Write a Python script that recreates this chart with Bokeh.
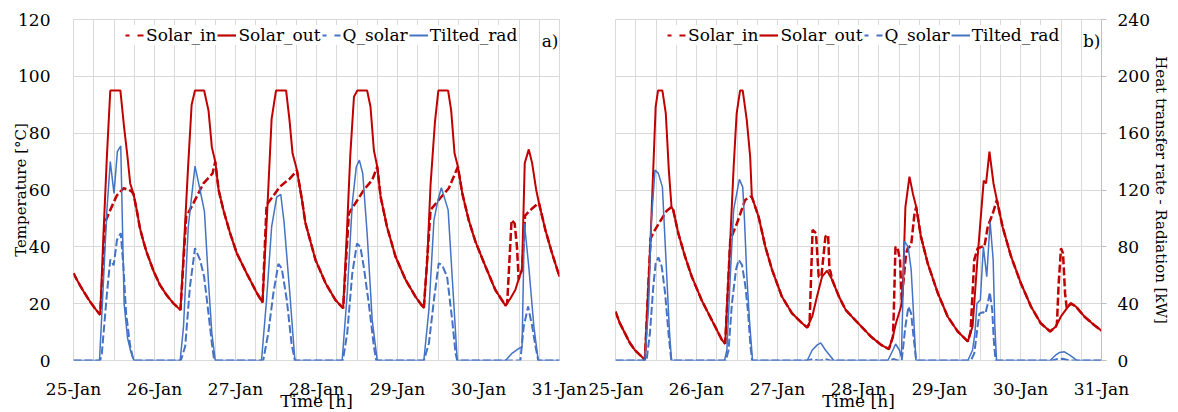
from bokeh.plotting import figure
from bokeh.models import Range1d, LinearAxis, FixedTicker, Legend, LegendItem, Label, Grid
from bokeh.layouts import row
from bokeh.embed import file_html
from bokeh.resources import INLINE

FONT = "DejaVu Serif"
FS = "17px"
FS_VT = "15px"
RED = "#c00000"
BLUE = "#4472c4"
GRID = "#d9d9d9"
AXIS = "#bfbfbf"
TEXT = "#000000"

# ---------------- axis content ----------------
DAY_TICKS = [0, 24, 48, 72, 96, 120, 144]          # hours since 25-Jan 00:00
DAY_LABELS = ["25-Jan", "26-Jan", "27-Jan", "28-Jan", "29-Jan", "30-Jan", "31-Jan"]
TEMP_TICKS = [0, 20, 40, 60, 80, 100, 120]
KW_TICKS = [0, 40, 80, 120, 160, 200, 240]
SERIES = ["Solar_in", "Solar_out", "Q_solar", "Tilted_rad"]
X_TITLE = "Time [h]"
Y_LEFT_TITLE = "Temperature [°C]"
Y_RIGHT_TITLE = "Heat transfer rate - Radiation [kW]"
TAGS = ["a)", "b)"]

# ---------------- panel a data: (hour, value) ----------------
A_SOLAR_OUT = [(0, 30.7), (1, 28.4), (2, 26.3), (3, 24.3), (4, 22.4), (5, 20.6), (6, 18.9), (7, 17.4), (7.9, 16.1),
               (8.9, 45), (9.9, 72), (10.9, 95), (13.9, 95), (15, 82), (16, 71.7), (16.8, 62.3), (17.8, 58.5),
               (18.8, 52.5), (19.7, 46.5), (20.7, 42), (21.7, 38), (22.7, 34.8), (23.7, 31.5), (25.6, 26.6),
               (27.6, 23), (29.6, 20.1), (31.7, 17.8),
               (32.8, 42), (33.9, 67), (35, 90), (36, 95), (38.7, 95), (40, 88), (41, 75), (42, 70), (43, 60),
               (44.4, 53), (46.4, 44.8), (48.4, 37.7), (51.3, 30.7), (54.3, 23.8), (56, 20.4),
               (57.5, 55), (58.7, 85), (60, 95), (63, 95), (64, 84.6), (64.9, 72.9), (66.2, 67), (67.7, 56.5),
               (68.7, 48.5), (71.7, 35.4), (74.7, 27.2), (77.6, 21.3), (79.9, 18.4),
               (81, 45), (82, 72), (83.1, 92.8), (84.1, 95), (87, 95), (88, 89.3), (89, 74), (90, 68.2), (91, 57.6),
               (92.9, 47), (95.4, 36.6), (98.4, 28.4), (101.3, 22.5), (103.8, 18.4),
               (104.8, 35), (105.8, 62), (107.1, 84), (108.1, 95), (111, 95), (111.9, 88), (112.9, 72.9),
               (113.9, 68.2), (115.2, 58.8), (117.1, 49.4), (119.1, 41.8), (122.1, 33), (125, 24.8), (128, 19.3),
               (129.5, 21.9), (130.9, 24.8), (132, 29), (132.9, 32), (133.7, 69.4), (134.9, 74.3), (135.9, 69.4),
               (137.1, 60), (137.9, 55.5), (139.8, 46), (141.8, 37.7), (144, 29.5)]
A_SOLAR_IN = [(0, 30.7), (1, 28.4), (2, 26.3), (3, 24.3), (4, 22.4), (5, 20.6), (6, 18.9), (7, 17.4), (7.9, 16.1),
              (9.5, 49), (10.9, 53), (12.8, 58), (14.8, 60.6), (16.3, 60.2), (17.3, 59.4), (17.8, 58.5),
              (18.8, 52.5), (19.7, 46.5), (20.7, 42), (21.7, 38), (22.7, 34.8), (23.7, 31.5), (25.6, 26.6),
              (27.6, 23), (29.6, 20.1), (31.7, 17.8),
              (33.4, 50.6), (35.5, 55.3), (38.5, 62.3), (41.2, 65.8), (42, 70), (43, 60),
              (44.4, 53), (46.4, 44.8), (48.4, 37.7), (51.3, 30.7), (54.3, 23.8), (56, 20.4),
              (57.2, 54.7), (61.2, 61.2), (64.1, 64), (65.6, 66), (66.2, 67), (67.7, 56.5),
              (68.7, 48.5), (71.7, 35.4), (74.7, 27.2), (77.6, 21.3), (79.9, 18.4),
              (81.6, 51.8), (83.6, 55.5), (86, 60), (88.5, 63.5), (90, 68.2), (91, 57.6),
              (92.9, 47), (95.4, 36.6), (98.4, 28.4), (101.3, 22.5), (103.8, 18.4),
              (105.8, 53), (108.2, 56.5), (111.2, 60.6), (113.9, 68.2), (115.2, 58.8), (117.1, 49.4),
              (119.1, 41.8), (122.1, 33), (125, 24.8), (128, 19.3),
              (128.5, 20.2), (129.8, 49.4), (130.7, 48.3), (131.4, 40), (131.9, 28.5), (132, 29), (132.9, 32),
              (133.8, 51), (135.9, 53.5), (137.9, 55.5), (139.8, 46), (141.8, 37.7), (144, 29.5)]
A_Q_SOLAR = [(0, 0), (7.9, 0), (8.4, 5), (9.9, 47), (10.9, 71), (11.9, 67), (12.9, 85), (14, 89.6), (14.8, 66),
             (15.6, 33), (16.8, 10), (17.8, 0),
             (31.8, 0), (33.1, 10), (34.5, 52), (36, 79), (37.5, 70.8), (38.7, 59), (40, 33), (41, 12), (41.7, 0),
             (56.2, 0), (57.7, 19), (59.2, 47), (60.7, 68), (61.7, 65), (63.2, 42.6), (64.6, 12), (65.6, 0),
             (79.8, 0), (81.1, 19), (82.6, 61.4), (84, 82.4), (85, 80), (86, 66), (87.5, 40), (89, 10), (89.7, 0),
             (103.8, 0), (105.3, 12), (106.8, 42.6), (108.2, 68.4), (109.2, 67.2), (110.7, 59), (112.2, 28.6),
             (113.2, 5.2), (113.7, 0),
             (132.4, 0), (133.4, 24), (134.7, 38), (135.9, 24), (136.9, 10), (137.7, 0), (144, 0)]
A_TILTED_RAD = [(0, 0), (7.7, 0), (8.7, 47), (9.9, 106), (10.9, 140), (12, 117.6), (13, 147), (14, 151), (15, 40),
                (16, 16), (17, 6), (17.9, 0),
                (31.6, 0), (32.6, 24), (34, 94), (36, 136.8), (37.5, 120), (38.8, 104.8), (40, 55), (41, 19), (42, 0),
                (55.7, 0), (57.2, 42.6), (58.7, 94), (60.2, 115), (61.4, 117), (62.4, 97), (64.1, 47), (65.6, 0),
                (79.6, 0), (81.1, 47), (82.6, 110.6), (83.8, 136.4), (84.7, 141), (85.7, 131.6), (87, 89.6),
                (88.5, 28.6), (90, 0),
                (103.8, 0), (105.3, 35.6), (106.8, 98.8), (108, 113), (109, 121.6), (111, 106), (112.2, 59),
                (113.7, 0),
                (128, 0), (130, 5.2), (132, 8.6), (132.9, 9.4), (133.6, 96.6), (134.9, 66), (136.4, 24),
                (137.7, 0), (144, 0)]

# ---------------- panel b data: (hour, value) ----------------
B_SOLAR_OUT = [(0, 17.2), (1.3, 13.1), (2.8, 9.6), (4.2, 6.3), (5.7, 3.7), (7.2, 2), (8.7, 0.2),
               (10.4, 43), (11.9, 89.3), (12.6, 95), (13.9, 95), (14.9, 87), (15.8, 67), (16.6, 54), (17.1, 53),
               (18.6, 44.8), (20.6, 36.6), (22.6, 29.5), (25.5, 21.3), (28.5, 14.3), (31.5, 7.3), (32.5, 5.9),
               (34, 42.4), (35, 68), (35.9, 87), (36.9, 95), (37.7, 95), (38.9, 84.6), (39.9, 71.7), (40.4, 57.6),
               (42.4, 50.6), (44.4, 40), (46.4, 31.9), (49.3, 22.5), (52.3, 16.6), (55.3, 13.1), (56.8, 11.6),
               (58.3, 15.5), (59.7, 22.5), (61.2, 29.5), (62.7, 31.6), (64.2, 28.4), (66.2, 22.5), (68.2, 17.8),
               (70, 15.5), (72.8, 12), (75.7, 8.4), (78.7, 5.5), (81, 4),
               (82.2, 8.4), (83.1, 13.1), (84.6, 19), (85.1, 23.7), (85.9, 54), (87.1, 64.7), (88.1, 58.8),
               (89.1, 54), (90.5, 43.6), (92.5, 34.2), (95.5, 23.7), (98.4, 15.5), (101.4, 10.2), (104.4, 6.7),
               (105.8, 12), (107.3, 36.6), (109.1, 63.3), (109.8, 62.3), (110.8, 73.5), (112, 62.3), (113, 56.5),
               (114.7, 47), (117.2, 36.6), (120.1, 27.2), (123.1, 19), (126, 13.1), (128.8, 10.2),
               (130.5, 12), (132, 15.5), (133.4, 17.8), (134.9, 20.1), (136.4, 19), (138.9, 15.5), (141.8, 12.5),
               (144, 10.5)]
B_SOLAR_IN = [(0, 17.2), (1.3, 13.1), (2.8, 9.6), (4.2, 6.3), (5.7, 3.7), (7.2, 2), (8.7, 0.2),
              (10.4, 43), (11.7, 46), (13.5, 49.5), (15.2, 52.7), (16.6, 54), (17.1, 53),
              (18.6, 44.8), (20.6, 36.6), (22.6, 29.5), (25.5, 21.3), (28.5, 14.3), (31.5, 7.3), (32.5, 5.9),
              (34, 42.4), (36, 48.3), (38.4, 56.5), (39.9, 57.6), (40.4, 57.6),
              (42.4, 50.6), (44.4, 40), (46.4, 31.9), (49.3, 22.5), (52.3, 16.6), (55.3, 13.1), (56.8, 11.6),
              (57.5, 13), (58.4, 46), (59.4, 44.8), (60.2, 29.5), (61, 29.5), (62.2, 43.6), (63, 44.2),
              (63.4, 31.9), (63.7, 31.3), (64.2, 28.4), (66.2, 22.5), (68.2, 17.8),
              (70, 15.5), (72.8, 12), (75.7, 8.4), (78.7, 5.5), (81, 4), (82.2, 8.4),
              (82.45, 16.6), (82.95, 40), (83.6, 39.5), (84.3, 35.4), (84.8, 21.3), (86.1, 37.7), (86.6, 39.5),
              (87.6, 40.6), (88.6, 51.8), (89.1, 54),
              (90.5, 43.6), (92.5, 34.2), (95.5, 23.7), (98.4, 15.5), (101.4, 10.2), (104.4, 6.7),
              (105.2, 10), (106.3, 35.4), (107.3, 39.5), (108.5, 40), (109.3, 40), (110.3, 47.1), (111.8, 51.8),
              (113, 56.5),
              (114.7, 47), (117.2, 36.6), (120.1, 27.2), (123.1, 19), (126, 13.1), (128.8, 10.2),
              (130.5, 12), (130.8, 13), (131.3, 26.9), (132, 39.5), (132.6, 37.7), (133.2, 23.7), (133.7, 18.4),
              (134.9, 20.1), (136.4, 19), (138.9, 15.5), (141.8, 12.5), (144, 10.5)]
B_Q_SOLAR = [(0, 0), (9.2, 0), (10.2, 19.2), (11.2, 52), (11.9, 68.4), (12.7, 72.6), (13.7, 66), (14.7, 47.4),
             (15.7, 19.2), (16.4, 2.8), (16.6, 0),
             (32.7, 0), (33.5, 7.4), (34.5, 40.2), (35.7, 63.8), (36.5, 70.8), (37.5, 67.2), (38.5, 52),
             (39.3, 33.2), (40, 9.8), (40.5, 0),
             (57, 0), (58.5, 1), (60, 0), (61, 0), (62, 1.2), (63.5, 0),
             (80.7, 0), (82.5, 1), (83.6, 0), (84.8, 0), (85.9, 24), (86.8, 38), (87.6, 33.2), (88.3, 16.8),
             (89.1, 0),
             (105.3, 0), (106.3, 5), (107.3, 24), (107.8, 33), (108.9, 34), (109.6, 33), (110.3, 40), (110.9, 48),
             (111.6, 36), (112.1, 14), (112.6, 0),
             (129.5, 0), (131, 1), (132.5, 1.2), (134.5, 0), (144, 0)]
B_TILTED_RAD = [(0, 0), (8.7, 0), (9.8, 38), (10.6, 97), (11.7, 134), (12.7, 131.7), (13.9, 122), (14.9, 73.6),
                (16, 20), (16.6, 0),
                (32.3, 0), (33, 7.5), (34, 59), (35, 106), (36.7, 127.5), (37.7, 122), (38.2, 100), (38.9, 60),
                (39.7, 28), (40.6, 0),
                (56.8, 0), (58.3, 7.4), (59.8, 11), (60.8, 12.4), (62.2, 7.4), (64.7, 0),
                (80.7, 0), (82.2, 7.4), (83, 11.6), (84.1, 7.4), (84.7, 2.5), (85.6, 84), (86.7, 80), (87.6, 64),
                (88.1, 42), (89, 0),
                (104.4, 0), (105.8, 7.4), (106.5, 19.2), (107.1, 40.2), (108.1, 42.6), (109, 80), (110, 59),
                (111, 97.7), (111.9, 70.8), (112.4, 23.9), (112.9, 0),
                (128.8, 0), (130.5, 4), (131.5, 5.6), (133, 6.1), (134.5, 4), (136.8, 0), (144, 0)]

FRAME_W, FRAME_H = 486, 341
NAN = float("nan")


def unzip(pairs):
    return [q[0] for q in pairs], [q[1] for q in pairs]


def style_axis_text(ax, title_size):
    ax.major_label_text_font = FONT
    ax.major_label_text_font_size = FS
    ax.major_label_text_color = TEXT
    ax.axis_label_text_font = FONT
    ax.axis_label_text_font_size = title_size
    ax.axis_label_text_font_style = "normal"
    ax.axis_label_text_color = TEXT


def build_panel(solar_in, solar_out, q_solar, tilted, tag, left_axis, right_axis, bl, br):
    p = figure(frame_width=FRAME_W, frame_height=FRAME_H,
               x_range=Range1d(0, 144), y_range=Range1d(0, 120),
               x_axis_location="below", y_axis_location=None,
               output_backend="svg", toolbar_location=None,
               min_border_left=bl, min_border_right=br, min_border_top=19, min_border_bottom=52,
               background_fill_color="white", border_fill_color="white")
    p.extra_y_ranges = {"kw": Range1d(0, 240)}
    p.outline_line_color = GRID
    p.outline_line_width = 1

    xt = FixedTicker(ticks=DAY_TICKS, minor_ticks=list(range(0, 145, 6)))
    xa = p.xaxis[0]
    xa.ticker = xt
    xa.major_label_overrides = {t: lab for t, lab in zip(DAY_TICKS, DAY_LABELS)}
    xa.axis_line_color = None
    xa.major_tick_line_color = None
    xa.minor_tick_line_color = None
    xa.major_label_standoff = 12
    xa.axis_label = X_TITLE
    xa.axis_label_standoff = -11
    style_axis_text(xa, FS)
    p.xgrid.ticker = xt
    p.xgrid.grid_line_color = GRID
    p.xgrid.minor_grid_line_color = GRID

    yg = Grid(dimension=1, ticker=FixedTicker(ticks=TEMP_TICKS), grid_line_color=GRID)
    p.add_layout(yg)

    if left_axis:
        ya = LinearAxis(ticker=FixedTicker(ticks=TEMP_TICKS))
        ya.axis_line_color = None
        ya.major_tick_line_color = None
        ya.minor_tick_line_color = None
        ya.major_label_standoff = 17
        ya.axis_label = Y_LEFT_TITLE
        ya.axis_label_standoff = -15
        style_axis_text(ya, FS_VT)
        p.add_layout(ya, "left")
    if right_axis:
        ra = LinearAxis(y_range_name="kw", ticker=FixedTicker(ticks=KW_TICKS))
        ra.axis_line_color = AXIS
        ra.major_tick_line_color = AXIS
        ra.major_tick_out = 5
        ra.major_tick_in = 0
        ra.minor_tick_line_color = None
        ra.major_label_standoff = 11
        ra.axis_label = Y_RIGHT_TITLE
        ra.axis_label_standoff = -1
        style_axis_text(ra, FS_VT)
        p.add_layout(ra, "right")

    x, y = unzip(solar_in)
    p.line(x, y, line_color=RED, line_width=2.5, line_dash="8 3")
    x, y = unzip(solar_out)
    p.line(x, y, line_color=RED, line_width=2)
    x, y = unzip(q_solar)
    p.line(x, y, y_range_name="kw", line_color=BLUE, line_width=2, line_dash="8 3")
    x, y = unzip(tilted)
    p.line(x, y, y_range_name="kw", line_color=BLUE, line_width=1.5)

    # legend keys (short "- -" and "—" samples); one invisible NaN point each
    styles = [(RED, "6 8", 2.2), (RED, "solid", 2.2), (BLUE, "6 8", 2.2), (BLUE, "solid", 2)]
    items = []
    for name, (c, d, w) in zip(SERIES, styles):
        if d == "solid":
            r = p.line([NAN], [NAN], line_color=c, line_width=w)
        else:
            r = p.line([NAN], [NAN], line_color=c, line_width=w, line_dash=d, line_dash_offset=2)
        items.append(LegendItem(label=name, renderers=[r]))
    leg = Legend(items=items, location=(52, 315), orientation="horizontal",
                 background_fill_color="white", background_fill_alpha=1.0, border_line_color=None,
                 label_text_font=FONT, label_text_font_size=FS, label_text_color=TEXT,
                 glyph_width=19, glyph_height=20, label_standoff=2, spacing=1, padding=2, margin=0)
    p.add_layout(leg)

    p.add_layout(Label(x=FRAME_W - 1, y=320, x_units="screen", y_units="screen", text=tag,
                       text_align="right", text_baseline="alphabetic",
                       text_font=FONT, text_font_size=FS, text_color=TEXT))
    return p


p1 = build_panel(A_SOLAR_IN, A_SOLAR_OUT, A_Q_SOLAR, A_TILTED_RAD, TAGS[0], True, False, 73, 29)
p2 = build_panel(B_SOLAR_IN, B_SOLAR_OUT, B_Q_SOLAR, B_TILTED_RAD, TAGS[1], False, True, 27, 77)

layout = row(p1, p2)
open("out.html", "w").write(file_html(layout, INLINE))
